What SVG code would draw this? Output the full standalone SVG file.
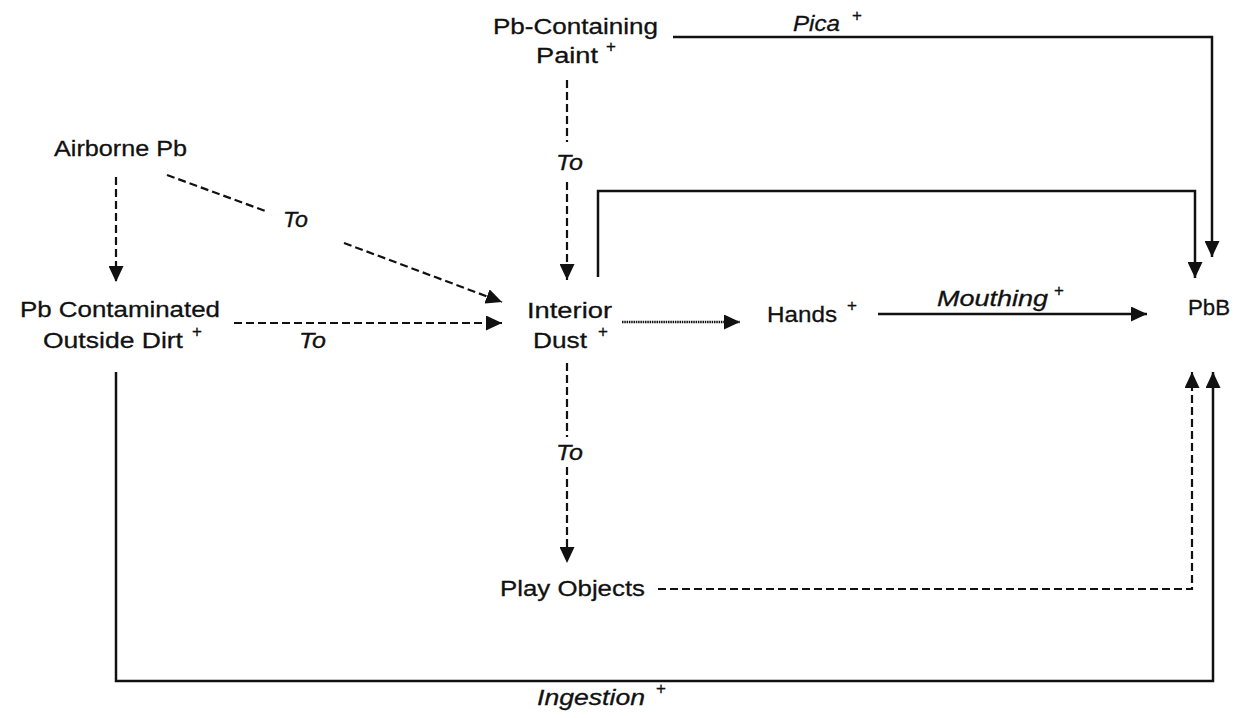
<svg xmlns="http://www.w3.org/2000/svg" width="1241" height="718" viewBox="0 0 1241 718">
<style>
  text { font-family: "Liberation Sans", Arial, sans-serif; font-size: 22.5px; fill: #111; stroke: #111; stroke-width: 0.3; }
  .it { font-style: italic; }
  .sup { font-size: 17px; text-anchor: middle; }
  .solid { fill: none; stroke: #111; stroke-width: 2.5; }
  .dash { fill: none; stroke: #111; stroke-width: 2.2; stroke-dasharray: 8 4; }
  .dot { fill: none; stroke: #111; stroke-width: 2.4; stroke-dasharray: 1.5 0.8; }
</style>
<defs>
  <marker id="arr" markerUnits="userSpaceOnUse" markerWidth="17" markerHeight="15" refX="16" refY="7.5" orient="auto">
    <path d="M0,0 L16,7.5 L0,15 Z" fill="#111" stroke="none"/>
  </marker>
</defs>
<rect width="1241" height="718" fill="#fff"/>

<g id="connectors">
  <path class="dash" d="M116,177 L116,282" marker-end="url(#arr)"/>
  <path class="dash" d="M167,175 L268,212"/>
  <path class="dash" d="M344,243 L502,302" marker-end="url(#arr)"/>
  <path class="dash" d="M234,323 L502,323" marker-end="url(#arr)"/>
  <path class="dash" d="M567,80 L567,142"/>
  <path class="dash" d="M567,182 L567,280" marker-end="url(#arr)"/>
  <path class="solid" d="M598,277 L598,191 L1195,191 L1195,278" marker-end="url(#arr)"/>
  <path class="solid" d="M673,37 L1212,37 L1212,257" marker-end="url(#arr)"/>
  <path class="dot" d="M622,322 L740,322" marker-end="url(#arr)"/>
  <path class="solid" d="M878,314 L1147,314" marker-end="url(#arr)"/>
  <path class="dash" d="M567,363 L567,437"/>
  <path class="dash" d="M567,467 L567,563" marker-end="url(#arr)"/>
  <path class="dash" d="M658,589 L1192,589 L1192,372" marker-end="url(#arr)"/>
  <path class="solid" d="M116,372 L116,681 L1213,681 L1213,372" marker-end="url(#arr)"/>

  <text class="it" x="283" y="227" textLength="25" lengthAdjust="spacingAndGlyphs">To</text>
  <text class="it" x="299" y="348" textLength="27" lengthAdjust="spacingAndGlyphs">To</text>
  <text class="it" x="556" y="170" textLength="27" lengthAdjust="spacingAndGlyphs">To</text>
  <text class="it" x="556" y="460" textLength="27" lengthAdjust="spacingAndGlyphs">To</text>
  <text class="it" x="793" y="31" textLength="47" lengthAdjust="spacingAndGlyphs">Pica</text>
  <text class="sup" x="857" y="21">+</text>
  <text class="it" x="937" y="306" textLength="111" lengthAdjust="spacingAndGlyphs">Mouthing</text>
  <text class="sup" x="1059" y="296">+</text>
  <text class="it" x="537" y="705" textLength="108" lengthAdjust="spacingAndGlyphs">Ingestion</text>
  <text class="sup" x="661" y="694">+</text>
</g>

<g id="paint">
  <text x="493" y="34" textLength="165" lengthAdjust="spacingAndGlyphs">Pb-Containing</text>
  <text x="536" y="63" textLength="62" lengthAdjust="spacingAndGlyphs">Paint</text>
  <text class="sup" x="611" y="52">+</text>
</g>

<g id="airborne">
  <text x="54" y="156" textLength="133" lengthAdjust="spacingAndGlyphs">Airborne Pb</text>
</g>

<g id="outside-dirt">
  <text x="20" y="317" textLength="200" lengthAdjust="spacingAndGlyphs">Pb Contaminated</text>
  <text x="43" y="348" textLength="140" lengthAdjust="spacingAndGlyphs">Outside Dirt</text>
  <text class="sup" x="197" y="337">+</text>
</g>

<g id="interior-dust">
  <text x="527" y="318" textLength="85" lengthAdjust="spacingAndGlyphs">Interior</text>
  <text x="533" y="348" textLength="54" lengthAdjust="spacingAndGlyphs">Dust</text>
  <text class="sup" x="603" y="337">+</text>
</g>

<g id="hands">
  <text x="767" y="322" textLength="70" lengthAdjust="spacingAndGlyphs">Hands</text>
  <text class="sup" x="852" y="311">+</text>
</g>

<g id="pbb">
  <text x="1188" y="315" textLength="42" lengthAdjust="spacingAndGlyphs">PbB</text>
</g>

<g id="play-objects">
  <text x="500" y="596" textLength="145" lengthAdjust="spacingAndGlyphs">Play Objects</text>
</g>
</svg>
